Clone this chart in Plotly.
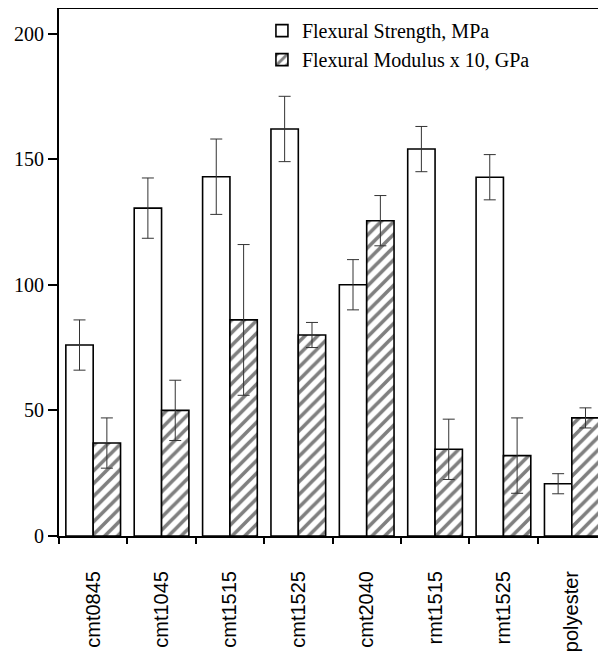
import plotly.graph_objects as go

categories = ["cmt0845", "cmt1045", "cmt1515", "cmt1525", "cmt2040", "rmt1515", "rmt1525", "polyester"]
strength = [76, 130.5, 143, 162, 100, 154, 142.8, 20.8]
strength_err = [10, 12, 15, 13, 10, 9, 9, 4]
modulus = [37, 50, 86, 80, 125.5, 34.5, 32, 47]
modulus_err = [10, 12, 30, 5, 10, 12, 15, 4]

fig = go.Figure()
fig.add_trace(go.Bar(
    x=categories, y=strength, name="Flexural Strength, MPa",
    marker=dict(color="white", line=dict(color="black", width=1.6)),
    error_y=dict(type="data", array=strength_err, color="#333", thickness=1, width=6),
))
fig.add_trace(go.Bar(
    x=categories, y=modulus, name="Flexural Modulus x 10, GPa",
    marker=dict(color="white", line=dict(color="black", width=1.6),
                pattern=dict(shape="/", fgcolor="black", bgcolor="white", size=9, solidity=0.4)),
    error_y=dict(type="data", array=modulus_err, color="#333", thickness=1, width=6),
))

fig.update_layout(
    width=598, height=648,
    margin=dict(l=51, r=0, t=1, b=120),
    paper_bgcolor="white", plot_bgcolor="white",
    barmode="group", bargap=0.2, bargroupgap=0,
    showlegend=True,
    legend=dict(x=0.371, y=0.996, xanchor="left", yanchor="top",
                font=dict(family="Liberation Serif", size=20, color="black"),
                bgcolor="rgba(0,0,0,0)", tracegroupgap=0),
    xaxis=dict(
        automargin=False,
        showline=True, linecolor="black", linewidth=2, mirror=True,
        ticks="outside", ticklen=6, tickcolor="black", tickwidth=1.5,
        tickson="boundaries", tickangle=-90,
        ticklabelstandoff=25,
        tickfont=dict(family="Liberation Sans", size=20, color="black"),
        showgrid=False,
    ),
    yaxis=dict(
        automargin=False,
        range=[0, 209.75], tickvals=[0, 50, 100, 150, 200],
        showline=True, linecolor="black", linewidth=2,
        ticks="outside", ticklen=9, tickcolor="black", tickwidth=1.5,
        tickfont=dict(family="Liberation Serif", size=20, color="black"),
        showgrid=False, zeroline=False,
    ),
)

fig.write_html("out.html")
